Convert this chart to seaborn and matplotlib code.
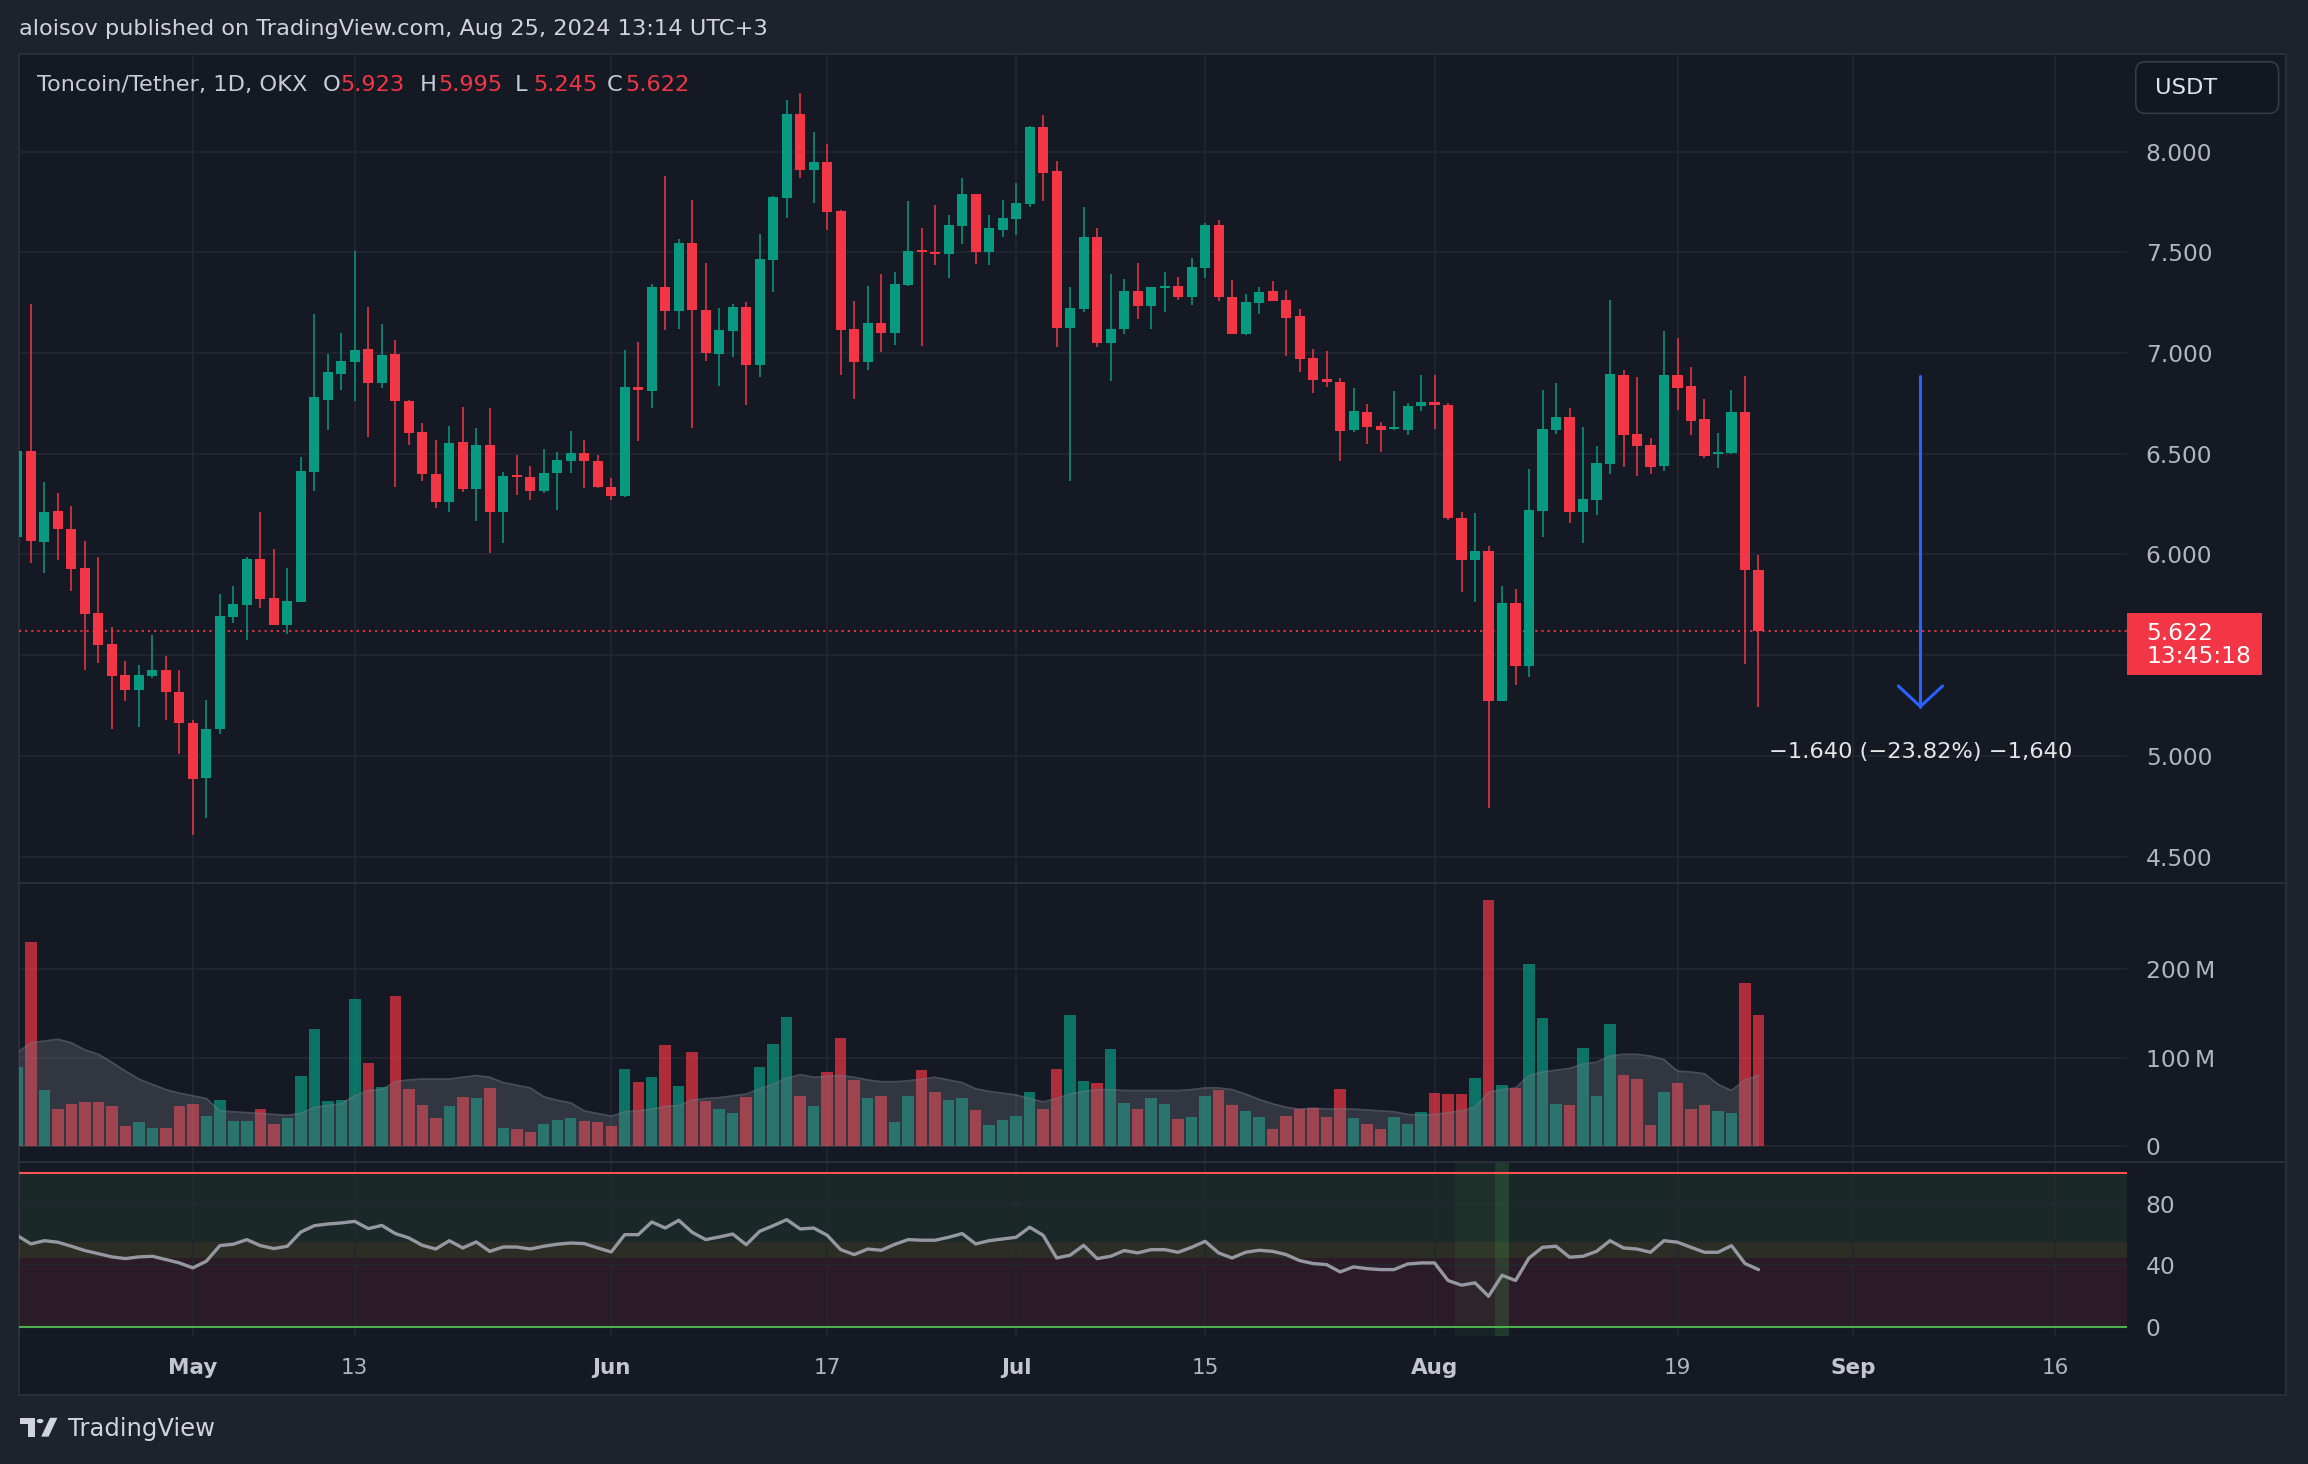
import numpy as np
import pandas as pd
import matplotlib
matplotlib.use("Agg")
import matplotlib.pyplot as plt
import matplotlib.transforms as mtransforms
from matplotlib.patches import Rectangle, FancyBboxPatch, Polygon, Circle
from matplotlib.lines import Line2D
import seaborn as sns

# ----------------------------
# Data: Toncoin/Tether, 1D, OKX  (2024-04-18 .. 2024-08-25)
# ----------------------------
first_day = "2024-04-18"

opens = [6.086, 6.515, 6.062, 6.214, 6.128, 5.931, 5.709, 5.554, 5.401, 5.328, 5.397, 5.426, 5.315,
         5.165, 4.889, 5.135, 5.690, 5.751, 5.975, 5.783, 5.648, 5.766, 6.411, 6.768, 6.897, 6.953, 7.020,
         6.850, 6.995, 6.764, 6.608, 6.401, 6.259, 6.559, 6.323, 6.544, 6.209, 6.392, 6.382, 6.313, 6.404,
         6.465, 6.505, 6.465,
         6.335, 6.288, 6.830, 6.813, 7.328, 7.207, 7.544, 7.212, 6.995, 7.108, 7.229, 6.941, 7.463, 7.771,
         8.185, 7.906, 7.946, 7.704, 7.118, 6.956, 7.148, 7.099, 7.337, 7.510, 7.500, 7.490, 7.628, 7.788,
         7.500, 7.613,
         7.665, 7.739, 8.121, 7.901, 7.123, 7.219, 7.576, 7.052, 7.121, 7.308, 7.232, 7.325, 7.335, 7.276,
         7.421, 7.635, 7.278, 7.094, 7.249, 7.308, 7.264, 7.185, 6.975, 6.872, 6.857, 6.618, 6.709, 6.638,
         6.621, 6.618, 6.736,
         6.756, 6.744, 6.182, 5.973, 6.015, 5.271, 5.759, 5.448, 6.214, 6.618, 6.680, 6.209, 6.268, 6.451,
         6.892, 6.599, 6.544, 6.441, 6.892, 6.837, 6.670, 6.498, 6.505, 6.709, 5.923]
highs = [6.600, 7.244, 6.362, 6.303, 6.239, 6.067, 5.988, 5.640, 5.470, 5.451, 5.599, 5.495, 5.426,
         5.180, 5.278, 5.803, 5.845, 5.988, 6.209, 6.025, 5.931, 6.485, 7.195, 6.995, 7.101, 7.505, 7.229,
         7.145, 7.064, 6.768, 6.653, 6.569, 6.638, 6.734, 6.628, 6.729, 6.411, 6.495, 6.441, 6.525, 6.510,
         6.613, 6.569, 6.495,
         6.377, 7.015, 7.054, 7.340, 7.877, 7.564, 7.759, 7.446, 7.224, 7.244, 7.254, 7.589, 7.778, 8.254,
         8.293, 8.099, 8.039, 7.712, 7.259, 7.333, 7.392, 7.401, 7.754, 7.618, 7.734, 7.685, 7.867, 7.790,
         7.685, 7.759,
         7.842, 8.126, 8.180, 7.951, 7.328, 7.724, 7.618, 7.392, 7.367, 7.446, 7.328, 7.401, 7.377, 7.470,
         7.643, 7.660, 7.362, 7.293, 7.328, 7.357, 7.313, 7.219, 7.020, 7.010, 6.877, 6.828, 6.749, 6.658,
         6.813, 6.754, 6.892,
         6.892, 6.754, 6.209, 6.204, 6.044, 5.842, 5.828, 6.426, 6.818, 6.852, 6.729, 6.633, 6.539, 7.264,
         6.916, 6.882, 6.579, 7.108, 7.074, 6.931, 6.773, 6.603, 6.818, 6.887, 5.995]
lows = [6.050, 5.956, 5.906, 5.973, 5.820, 5.426, 5.463, 5.135, 5.271, 5.143, 5.389, 5.180, 5.007,
        4.606, 4.692, 5.111, 5.660, 5.574, 5.734, 5.648, 5.603, 5.766, 6.313, 6.616, 6.818, 6.764, 6.584,
        6.825, 6.337, 6.542, 6.367, 6.232, 6.209, 6.308, 6.165, 6.005, 6.059, 6.293, 6.268, 6.305, 6.222,
        6.406, 6.330, 6.330,
        6.271, 6.283, 6.562, 6.727, 7.113, 7.121, 6.626, 6.958, 6.837, 6.978, 6.744, 6.879, 7.303, 7.672,
        7.869, 7.746, 7.611, 6.892, 6.773, 6.916, 7.005, 7.039, 7.333, 7.034, 7.436, 7.372, 7.539, 7.441,
        7.436, 7.574,
        7.584, 7.724, 7.754, 7.030, 6.367, 7.204, 7.032, 6.860, 7.096, 7.167, 7.121, 7.202, 7.261, 7.236,
        7.372, 7.256, 7.094, 7.089, 7.195, 7.259, 6.985, 6.906, 6.803, 6.833, 6.466, 6.608, 6.549, 6.510,
        6.618, 6.591, 6.714,
        6.623, 6.172, 5.815, 5.766, 4.741, 5.271, 5.350, 5.394, 6.089, 6.599, 6.158, 6.059, 6.195, 6.397,
        6.436, 6.387, 6.401, 6.416, 6.719, 6.594, 6.480, 6.431, 6.500, 5.458, 5.245]
closes = [6.515, 6.067, 6.209, 6.128, 5.926, 5.704, 5.549, 5.397, 5.328, 5.401, 5.426, 5.315, 5.163,
          4.884, 5.135, 5.692, 5.754, 5.975, 5.778, 5.648, 5.771, 6.416, 6.781, 6.904, 6.958, 7.015, 6.850,
          6.990, 6.761, 6.603, 6.399, 6.259, 6.554, 6.323, 6.544, 6.209, 6.387, 6.385, 6.313, 6.406, 6.470,
          6.505, 6.463, 6.335,
          6.291, 6.830, 6.818, 7.328, 7.207, 7.544, 7.212, 6.998, 7.113, 7.229, 6.941, 7.466, 7.773, 8.185,
          7.906, 7.946, 7.700, 7.113, 6.956, 7.148, 7.099, 7.342, 7.505, 7.502, 7.490, 7.635, 7.788, 7.500,
          7.618, 7.670,
          7.744, 8.121, 7.892, 7.126, 7.224, 7.576, 7.052, 7.121, 7.308, 7.232, 7.328, 7.335, 7.276, 7.426,
          7.635, 7.276, 7.094, 7.254, 7.303, 7.259, 7.175, 6.970, 6.867, 6.857, 6.613, 6.714, 6.633, 6.618,
          6.628, 6.739, 6.756,
          6.741, 6.182, 5.973, 6.015, 5.271, 5.759, 5.448, 6.219, 6.623, 6.680, 6.209, 6.273, 6.456, 6.897,
          6.594, 6.539, 6.436, 6.892, 6.828, 6.663, 6.490, 6.510, 6.709, 5.923, 5.622]

# volume in millions of TON, and its moving average
volume_m = [90, 231, 64, 42, 48, 50, 50, 45, 23, 27, 21, 21, 46,
            48, 34, 52, 28, 28, 42, 25, 32, 79, 133, 51, 52, 167, 94, 67, 170, 65, 47, 32, 45, 56, 55, 66,
            21, 20, 16, 25, 30, 32, 28, 27,
            23, 87, 73, 78, 114, 68, 107, 51, 42, 37, 56, 90, 116, 146, 57, 46, 84, 122, 75, 55, 57, 27,
            57, 86, 61, 52, 55, 41, 24, 30,
            34, 61, 42, 87, 148, 74, 72, 110, 49, 42, 55, 48, 31, 33, 57, 64, 47, 40, 33, 20, 34, 42, 43,
            33, 65, 32, 25, 20, 33, 25, 39,
            60, 59, 59, 77, 279, 69, 66, 206, 145, 48, 47, 111, 57, 138, 81, 76, 24, 61, 72, 42, 47, 40,
            38, 185, 148]
volume_ma_m = [106, 117, 119, 121, 117, 109, 104, 95, 85, 76, 70, 64, 60,
               57, 54, 40, 39, 38, 37, 36, 35, 37, 44, 46, 48, 57, 63, 64, 73, 75, 76, 76, 76, 78, 80, 78,
               72, 69, 66, 56, 52, 49, 40, 37,
               34, 39, 40, 42, 45, 46, 52, 54, 55, 57, 59, 65, 70, 77, 81, 78, 79, 80, 78, 75, 73, 73,
               74, 76, 78, 75, 72, 65, 62, 60,
               58, 54, 50, 54, 59, 62, 64, 64, 63, 63, 63, 63, 63, 64, 66, 66, 64, 59, 53, 48, 44, 42, 43,
               42, 42, 42, 41, 40, 39, 36, 35,
               36, 38, 40, 44, 61, 64, 66, 80, 84, 86, 88, 93, 95, 102, 104, 104, 102, 98, 85, 84, 82, 70,
               63, 75, 80]
rsi = [59.3, 53.9, 56.0, 55.0, 52.4, 49.6, 47.6, 45.5, 44.4, 45.5, 45.9, 43.8, 41.6,
       38.4, 42.7, 52.8, 53.7, 56.7, 52.8, 50.9, 52.4, 61.6, 65.7, 66.8, 67.5, 68.5, 63.8, 65.9, 60.6,
       57.8, 53.0, 50.6, 56.0, 51.3, 55.2, 49.1, 51.9, 51.9, 50.6, 52.4, 53.7, 54.5, 54.1, 51.3,
       48.7, 59.9, 59.9, 68.1, 64.2, 69.2, 61.4, 56.7, 58.4, 60.3, 53.4, 62.1, 65.7, 69.6, 63.6, 64.2,
       59.5, 50.2, 47.0, 50.6, 49.8, 53.6, 56.7, 56.3, 56.3, 58.2, 60.6, 53.9, 56.0, 57.1,
       58.2, 64.7, 59.5, 44.8, 46.6, 53.0, 44.4, 45.9, 49.6, 48.1, 50.2, 50.2, 48.5, 51.7, 55.6, 48.1,
       44.8, 48.5, 49.8, 49.1, 47.0, 43.1, 41.2, 40.5, 35.8, 39.0, 37.9, 37.3, 37.3, 40.9, 41.6,
       41.6, 30.2, 27.2, 28.7, 20.0, 33.6, 30.2, 44.8, 51.7, 52.4, 45.3, 45.9, 49.1, 56.0, 51.3, 50.6,
       48.5, 56.0, 55.0, 51.7, 48.5, 48.5, 52.8, 41.2, 37.3]
rsi_band_edges = [0, 45, 55, 100]
oversold_dim = ["2024-08-03", "2024-08-04", "2024-08-05"]
oversold_bright = ["2024-08-06"]

price_ticks = [4.5, 5.0, 5.5, 6.0, 6.5, 7.0, 7.5, 8.0]
hidden_price_labels = [5.5]   # covered by the last-price tag in the reference
volume_ticks = [0, 100, 200]
rsi_ticks = [0, 40, 80]
date_ticks = ["2024-05-01", "2024-05-13", "2024-06-01", "2024-06-17", "2024-07-01",
              "2024-07-15", "2024-08-01", "2024-08-19", "2024-09-01", "2024-09-16"]
date_labels = ["May", "13", "Jun", "17", "Jul", "15", "Aug", "19", "Sep", "16"]
month_names = ["May", "Jun", "Jul", "Aug", "Sep"]

measure_date = "2024-09-06"
measure_top = 6.885
measure_bottom = 5.245
countdown = "13:45:18"

# ----------------------------
# Style
# ----------------------------
sns.set_theme(style="dark")
plt.rcParams["font.family"] = ["DejaVu Sans"]

BG_OUT = "#1e222d"
BG = "#151924"
GRID = "#232732"
SEP = "#2a2e39"
TEXT = "#b2b5be"
UP = "#089981"
DOWN = "#f23645"
BLUE = "#2962ff"
FS = 16.2    # header / annotation text
FS_AX = 16.8  # price-axis labels

W, H = 1568, 995  # layout measured on the reference


def fbox(x0, y0, x1, y1):
    return [x0 / W, 1 - y1 / H, (x1 - x0) / W, (y1 - y0) / H]


fig = plt.figure(figsize=(23.08, 14.64), dpi=100, facecolor=BG_OUT)
fig.patches.append(Rectangle((13 / W, 1 - 948 / H), (1553 - 13) / W, (948 - 37) / H,
                             transform=fig.transFigure, fc=BG, ec=SEP, lw=1.5, zorder=-5))

ax_p = fig.add_axes(fbox(13, 37, 1445, 600))
ax_v = fig.add_axes(fbox(13, 600, 1445, 790))
ax_r = fig.add_axes(fbox(13, 790, 1445, 908))

start = pd.Timestamp(first_day)
n = len(closes)
x = np.arange(n)
o, h, l, c = map(np.array, (opens, highs, lows, closes))
colors = np.where(c >= o, UP, DOWN)


def day(s):
    return (pd.Timestamp(s) - start).days


tick_x = [day(s) for s in date_ticks]

for ax in (ax_p, ax_v, ax_r):
    ax.set_facecolor("none")
    for s in ax.spines.values():
        s.set_visible(False)
    ax.set_xlim(0.13, 156.3)
    ax.set_xticks(tick_x)
    ax.grid(True, color=GRID, lw=1.2)
    ax.set_axisbelow(True)
    ax.yaxis.tick_right()
    ax.tick_params(axis="y", length=0, pad=13.5, labelcolor=TEXT, labelsize=FS_AX)
    ax.tick_params(axis="x", length=0, labelbottom=False)

# ---- price pane ----
ax_p.set_ylim(4.370, 8.482)
ax_p.set_yticks(price_ticks, ["" if v in hidden_price_labels else f"{v:.3f}" for v in price_ticks])
ax_p.vlines(x, l, h, colors=colors, lw=1.1, zorder=2)
body_lo = np.minimum(o, c)
body_h = np.maximum(np.abs(c - o), 0.01)
ax_p.bar(x, body_h, bottom=body_lo, width=0.75, color=colors, lw=0, zorder=3)
ax_p.axhline(c[-1], color=DOWN, lw=1.3, ls=(0, (1.2, 2.2)), zorder=1)

# last price tag
trans = mtransforms.blended_transform_factory(ax_p.transAxes, ax_p.transData)
px = 136.9  # display px per price unit
ax_p.add_patch(Rectangle((1.0, c[-1] - 30 / px), 92 / 1432, 42 / px, transform=trans,
                         fc=DOWN, ec="none", clip_on=False, zorder=6))
ax_p.text(1 + 13 / 1432, c[-1] - 9.5 / px, f"{c[-1]:.3f}\n{countdown}", transform=trans,
          color="white", fontsize=FS_AX, va="center", ha="left", linespacing=1.0, zorder=7)

# measure arrow
xm = day(measure_date)
ax_p.plot([xm, xm], [measure_top, measure_bottom], color=BLUE, lw=2.2, solid_capstyle="round", zorder=4)
ax_p.plot([xm - 1.64, xm, xm + 1.64], [measure_bottom + 0.102, measure_bottom, measure_bottom + 0.102],
          color=BLUE, lw=2.2, solid_capstyle="round", solid_joinstyle="miter", zorder=4)
diff = abs(measure_bottom - measure_top)
pct = diff / measure_top * 100
d_txt = f"{diff:.3f}"
label = f"\u2212{d_txt} (\u2212{pct:.2f}%) \u2212{d_txt.replace('.', ',')}"
ax_p.annotate(label, (xm, measure_bottom), xytext=(0, -33), textcoords="offset points",
              ha="center", va="center", color="#e6e6e6", fontsize=FS, zorder=5)

# ---- volume pane ----
ax_v.set_ylim(-18.3, 298)
ax_v.set_yticks(volume_ticks, ["0" if v == 0 else f"{v}\u2009M" for v in volume_ticks])
ax_v.bar(x, volume_m, width=0.85, color=colors, alpha=0.7, lw=0, zorder=2)
ax_v.fill_between(x, 0, volume_ma_m, color="#787b86", alpha=0.3, lw=0, zorder=3)
sns.lineplot(x=x, y=volume_ma_m, ax=ax_v, color="#787b86", alpha=0.5, lw=1.2, zorder=4)

# ---- RSI pane ----
ax_r.set_ylim(-5.7, 106.7)
ax_r.set_yticks(rsi_ticks, [str(v) for v in rsi_ticks])
band_colors = ["#f23645", "#ffeb3b", "#4caf50"]
for lo_, hi_, col in zip(rsi_band_edges[:-1], rsi_band_edges[1:], band_colors):
    ax_r.axhspan(lo_, hi_, color=col, alpha=0.1, lw=0, zorder=0.5)
for s in oversold_dim:
    ax_r.axvspan(day(s) - 0.5, day(s) + 0.5, color="#4caf50", alpha=0.07, lw=0, zorder=0.6)
for s in oversold_bright:
    ax_r.axvspan(day(s) - 0.5, day(s) + 0.5, color="#4caf50", alpha=0.22, lw=0, zorder=0.6)
ax_r.axhline(rsi_band_edges[-1], color="#ff5252", lw=1.5, zorder=2)
ax_r.axhline(rsi_band_edges[0], color="#4caf50", lw=1.5, zorder=2)
sns.lineplot(x=x, y=rsi, ax=ax_r, color="#9598a1", lw=2.4, zorder=3)

ax_r.tick_params(axis="x", labelbottom=True, pad=16, labelcolor=TEXT, labelsize=15.5)
ax_r.set_xticks(tick_x, date_labels)
for t in ax_r.get_xticklabels():
    if t.get_text() in month_names:
        t.set_fontweight("bold")
        t.set_color("#c3c6ce")
for ax in (ax_p, ax_v, ax_r):
    ax.set_xlabel("")
    ax.set_ylabel("")

# pane separators
for yy in (600, 790):
    fig.add_artist(Line2D([13 / W, 1553 / W], [1 - yy / H, 1 - yy / H], color=SEP, lw=1.5))

# ---- header texts ----
fig.text(13 / W, 1 - 20 / H, "aloisov published on TradingView.com, Aug 25, 2024 13:14 UTC+3",
         color="#d1d4dc", fontsize=FS, va="center", ha="left")
fig.text(25 / W, 1 - 58 / H, "Toncoin/Tether, 1D, OKX", color="#c8cbd3", fontsize=FS, va="center")
for xx, letter, val in [(219, "O", o[-1]), (285, "H", h[-1]), (350, "L", l[-1]), (412, "C", c[-1])]:
    fig.text(xx / W, 1 - 58 / H, letter, color="#c8cbd3", fontsize=FS, va="center")
    fig.text((xx + 12.5) / W, 1 - 58 / H, f"{val:.3f}", color=DOWN, fontsize=FS, va="center")

# USDT box
fig.patches.append(FancyBboxPatch((1451 / W, 1 - 77 / H), 97 / W, 35 / H,
                                  boxstyle="round,pad=0,rounding_size=0.004",
                                  mutation_aspect=2308 / 1464, transform=fig.transFigure,
                                  fc="#131722", ec="#363a45", lw=1.2, zorder=5))
fig.text(1464 / W, 1 - 59.5 / H, "USDT", color="#e0e3eb", fontsize=FS, va="center", zorder=6)

# TradingView logo
logo = "#d1d4dc"
fig.patches.append(Polygon([(13.6 / W, 1 - 963.6 / H), (23.5 / W, 1 - 963.6 / H), (23.5 / W, 1 - 976.4 / H),
                            (19 / W, 1 - 976.4 / H), (19 / W, 1 - 967.5 / H), (13.6 / W, 1 - 967.5 / H)],
                           closed=True, transform=fig.transFigure, fc=logo, ec="none"))
fig.patches.append(Polygon([(28 / W, 1 - 976.4 / H), (33 / W, 1 - 976.4 / H), (39 / W, 1 - 963.6 / H),
                            (34 / W, 1 - 963.6 / H)], closed=True, transform=fig.transFigure, fc=logo, ec="none"))
fig.patches.append(Circle((27.2 / W, 1 - 965.8 / H), 2.3 / W, transform=fig.transFigure, fc=logo, ec="none"))
fig.text(46 / W, 1 - 971 / H, "TradingView", color=logo, fontsize=17.5, va="center", ha="left")

fig.savefig("out.png", dpi=100, facecolor=BG_OUT)
